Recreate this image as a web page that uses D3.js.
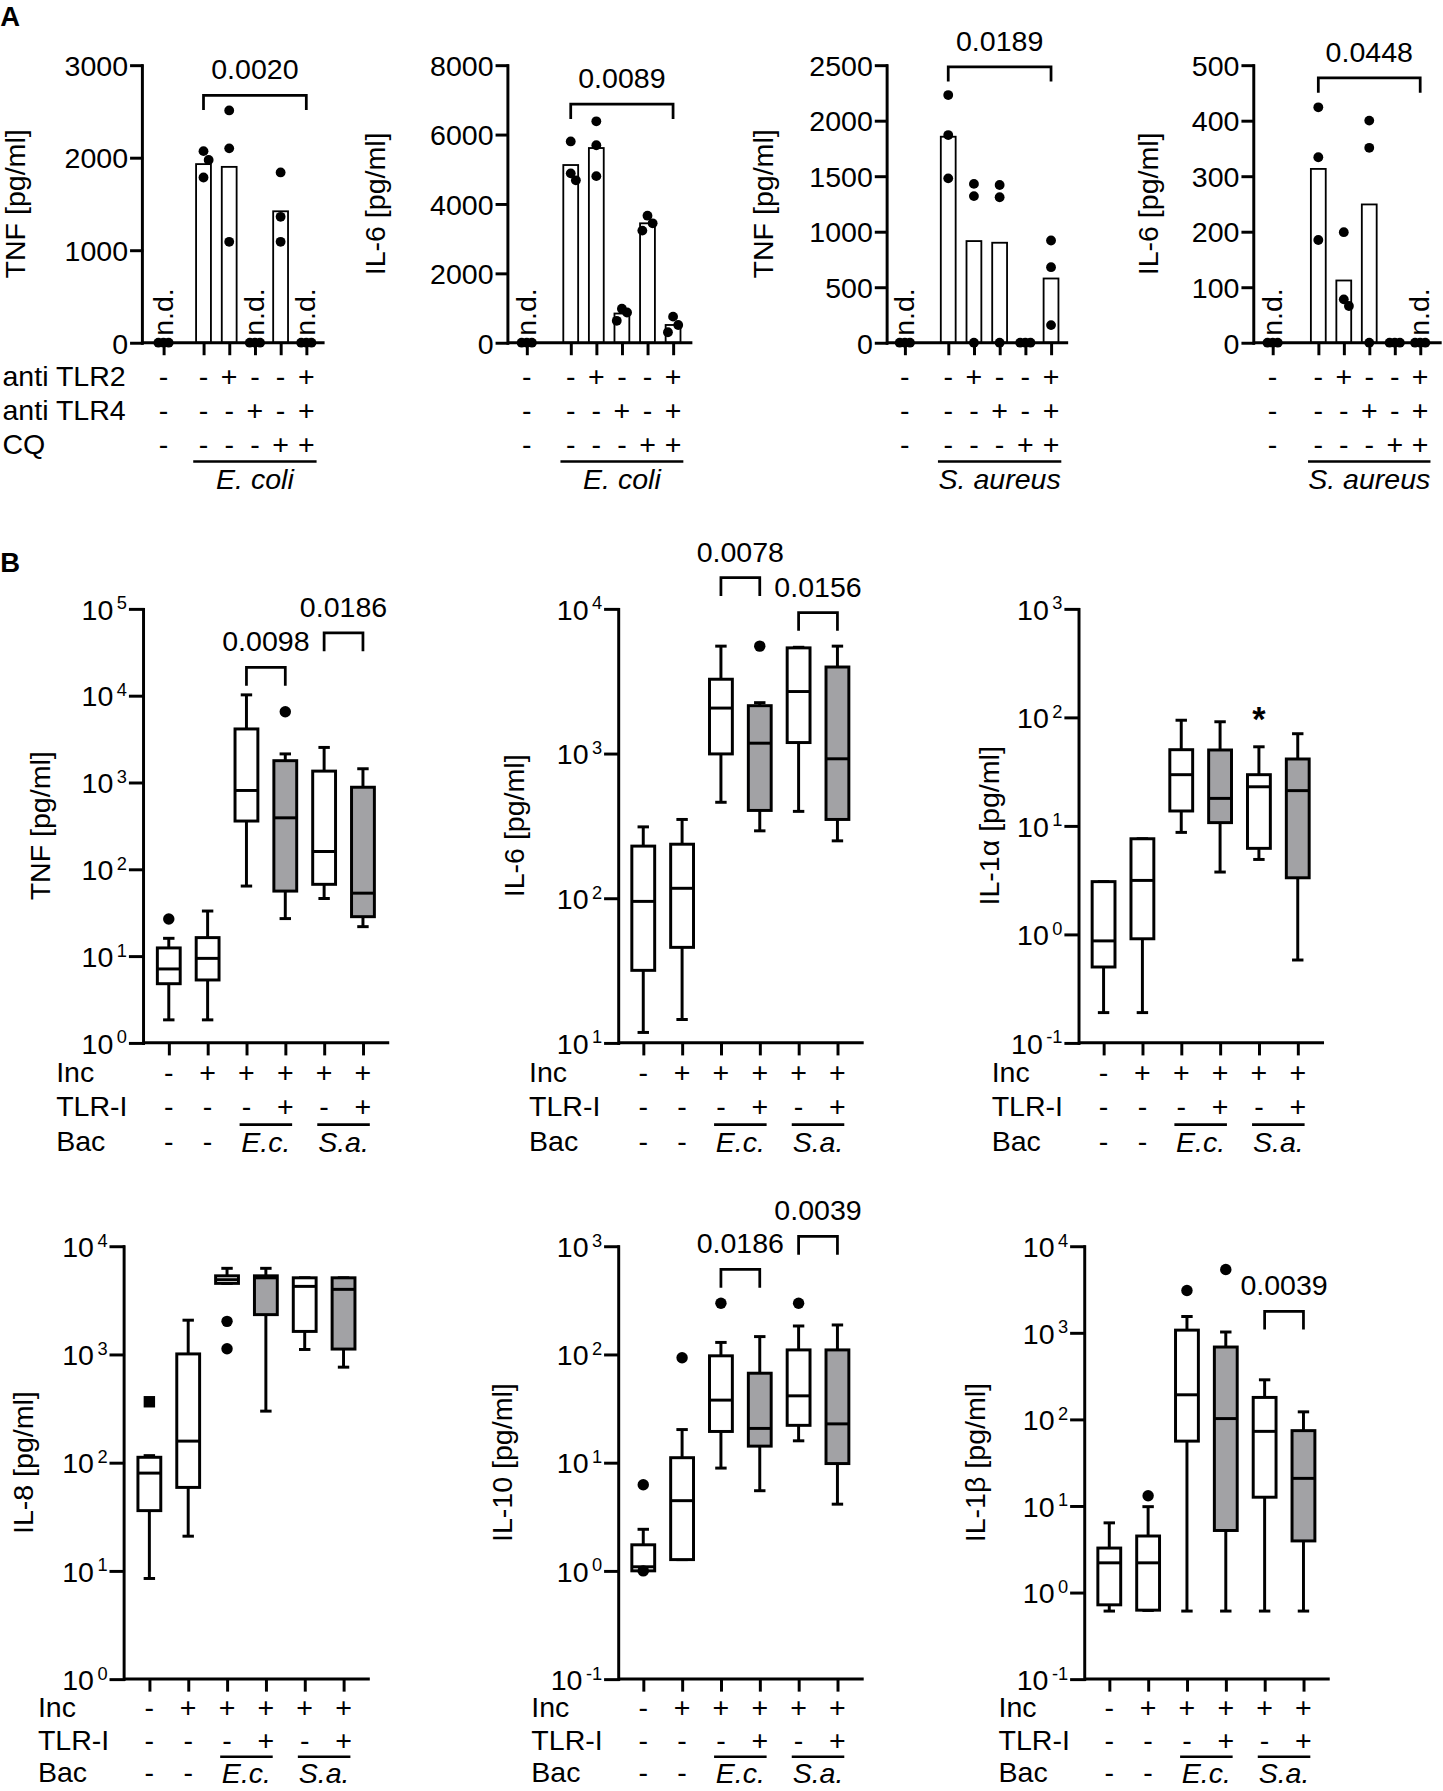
<!DOCTYPE html>
<html>
<head>
<meta charset="utf-8">
<script src="https://cdn.jsdelivr.net/npm/d3@7"></script>
<style>
  body { margin: 0; background: #fff; }
  text { font-family: Arial, "Liberation Sans", Helvetica, sans-serif; fill: #000; }
</style>
</head>
<body>
<svg id="fig"></svg>
<script>
// ---- panel A data ----
const aRowLabels = ['anti TLR2', 'anti TLR4', 'CQ'];
const aSigns = [
  ['-', '-', '+', '-', '-', '+'],
  ['-', '-', '-', '+', '-', '+'],
  ['-', '-', '-', '-', '+', '+']
];

const tnfEcTicks = [0, 1000, 2000, 3000];
const tnfEcBars = [0, 1930, 1900, 0, 1420, 0];
const tnfEcDots = [[0, 0, 0], [2070, 1975, 1785], [2510, 2100, 1090], [0, 0, 0], [1840, 1360, 1090], [0, 0, 0]];
const tnfEcND = [0, 3, 5];
const tnfEcP = [[1, 5, 2674, '0.0020']];

const il6EcTicks = [0, 2000, 4000, 6000, 8000];
const il6EcBars = [0, 5120, 5610, 840, 3440, 510];
const il6EcDots = [[0, 0, 0], [5800, 4880, 4680], [6380, 5690, 4800], [980, 870, 630], [3660, 3440, 3230], [750, 510, 300]];
const il6EcND = [0];
const il6EcP = [[1, 5, 6874, '0.0089']];

const tnfSaTicks = [0, 500, 1000, 1500, 2000, 2500];
const tnfSaBars = [0, 1855, 915, 900, 0, 578];
const tnfSaDots = [[0, 0, 0], [2230, 1870, 1480], [1430, 1320, 0], [1420, 1310, 0], [0, 0, 0], [920, 680, 158]];
const tnfSaND = [0];
const tnfSaP = [[1, 5, 2485, '0.0189']];

const il6SaTicks = [0, 100, 200, 300, 400, 500];
const il6SaBars = [0, 313, 112, 249, 0, 0];
const il6SaDots = [[0, 0, 0], [424, 334, 185], [199, 78, 66], [400, 351, 0], [0, 0, 0], [0, 0, 0]];
const il6SaND = [0, 5];
const il6SaP = [[1, 5, 477, '0.0448']];

// ---- panel B data: [low whisker, Q1, median, Q3, high whisker] ----
const bRowLabels = ['Inc', 'TLR-I', 'Bac'];
const bSigns = [
  ['-', '+', '+', '+', '+', '+'],
  ['-', '-', '-', '+', '-', '+'],
  ['-', '-']
];
const bBacGroups = [['E.c.', 2, 3], ['S.a.', 4, 5]];

const tnfBox = [[1.84, 4.8, 7.1, 12.4, 16], [1.84, 5.3, 9.4, 16.3, 33], [64, 359, 808, 4130, 10200],
  [27, 56, 391, 1780, 2130], [46, 67, 160, 1350, 2530], [21.8, 28.4, 53, 880, 1437]];
const tnfOut = [[26.7], [], [], [6530], [], []];
const tnfP = [[2, 3, 21100, '0.0098'], [4, 5, 52700, '0.0186']];

const il6Box = [[11.8, 31.7, 95, 229, 311], [14.5, 45.7, 117, 236, 350], [460, 993, 2060, 3260, 5520],
  [292, 404, 1178, 2140, 2245], [398, 1190, 2680, 5370, 5420], [249, 350, 919, 3960, 5520]];
const il6Out = [[], [], [], [5520], [], []];
const il6P = [[2, 3, 16400, '0.0078'], [4, 5, 9420, '0.0156']];

const il1aBox = [[0.19, 0.5, 0.87, 3.06, 3.06], [0.19, 0.91, 3.14, 7.6, 7.6], [8.7, 13.7, 29.6, 50.3, 94],
  [3.75, 10.7, 17.9, 50, 91], [4.9, 6.2, 22.9, 29.6, 53.5], [0.58, 3.32, 21.1, 41.3, 70.6]];
const il1aOut = [[], [], [], [], [], []];
const il1aP = [];
const il1aStar = [4];

const il8Box = [[8.5, 36, 80, 112, 116], [20.9, 59, 158, 1010, 2070], [4530, 4530, 4900, 5320, 6240],
  [299, 2330, 5100, 5320, 6240], [1110, 1630, 4250, 5100, 5100], [762, 1120, 3990, 5100, 5100]];
const il8Out = [[365], [], [2020, 1128], [], [], []];
const il8P = [];

const il10Box = [[1.0, 1.0, 1.09, 1.74, 2.42], [1.27, 1.27, 4.45, 11.1, 20.2], [8.9, 19.4, 37.8, 97, 129],
  [5.5, 14.2, 20.7, 67, 146], [15.9, 22.1, 41.4, 110, 183], [4.13, 9.8, 22.8, 110, 187]];
const il10Out = [[6.25, 1.0], [93], [297], [], [297], []];
const il10P = [[2, 3, 610, '0.0186'], [4, 5, 1230, '0.0039']];

const il1bBox = [[0.61, 0.72, 2.2, 3.26, 6.37], [0.62, 0.625, 2.2, 4.49, 9.8], [0.61, 56, 192, 1072, 1540],
  [0.61, 5.2, 102, 684, 1020], [0.61, 12.6, 72.6, 179, 286], [0.61, 3.94, 20.8, 74, 122]];
const il1bOut = [[], [13.1], [3070], [5370], [], []];
const il1bP = [[4, 5, 1770, '0.0039']];

// ---- drawing ----
const svg = d3.select('#fig')
  .attr('width', 1443).attr('height', 1791)
  .attr('viewBox', '0 0 1263 1568');

const LW = 2.6;

function text(g, x, y, s, size, anchor) {
  return g.append('text')
    .attr('x', x).attr('y', y)
    .attr('font-size', size)
    .attr('text-anchor', anchor || 'middle')
    .text(s);
}

function yLabel(g, x, y, s, size) {
  g.append('text')
    .attr('transform', `translate(${x},${y}) rotate(-90)`)
    .attr('dy', '0.35em')
    .attr('font-size', size)
    .attr('text-anchor', 'middle')
    .text(s);
}

function bracket(g, x1, x2, yy, leg, label, size) {
  g.append('path')
    .attr('d', `M${x1},${yy + leg}V${yy}H${x2}V${yy + leg}`)
    .attr('fill', 'none').attr('stroke', '#000').attr('stroke-width', 2.4);
  text(g, (x1 + x2) / 2, yy - 14, label, size);
}

// place dots of one column so they don't overlap too much
function swarm(vals, y, r, step) {
  const placed = [];
  return vals.map(v => {
    const py = y(v);
    let best = null, bestD = -1;
    for (const px of [0, step, -step]) {
      const d = placed.length ? d3.min(placed, p => Math.hypot(p[0] - px, p[1] - py)) : Infinity;
      if (d >= 2 * r) { best = px; bestD = d; break; }
      if (d > bestD) { best = px; bestD = d; }
    }
    placed.push([best, py]);
    return [best, py];
  });
}

function barChart(cfg, ticks, bars, dots, nd, pvals) {
  const g = svg.append('g');
  const xs = [cfg.ctrl].concat(d3.range(5).map(i => cfg.first + i * cfg.step));
  const y = d3.scaleLinear().domain([0, d3.max(ticks)]).range([cfg.bottom, cfg.top]);
  const xo = d3.scaleOrdinal(d3.range(6), xs);

  // bars (zero-height bars are not drawn)
  bars.forEach((v, i) => {
    if (v <= 0) return;
    g.append('rect')
      .attr('x', xs[i] - 6.5).attr('y', y(v))
      .attr('width', 13).attr('height', y(0) - y(v))
      .attr('fill', '#fff').attr('stroke', '#000').attr('stroke-width', 1.6);
  });

  // x axis ticks + line
  g.append('g').attr('transform', `translate(0,${cfg.bottom})`)
    .call(d3.axisBottom(xo).tickSize(11).tickFormat(''))
    .call(a => a.select('.domain').remove())
    .call(a => a.selectAll('line').attr('stroke-width', LW));
  g.append('line').attr('x1', cfg.x0).attr('x2', cfg.end)
    .attr('y1', cfg.bottom).attr('y2', cfg.bottom)
    .attr('stroke', '#000').attr('stroke-width', LW);

  // dots
  dots.forEach((col, i) => {
    swarm(col, y, 4.3, 4.5).forEach(p => {
      g.append('circle').attr('cx', xs[i] + p[0]).attr('cy', p[1]).attr('r', 4.3).attr('fill', '#000');
    });
  });

  // y axis
  g.append('g').attr('transform', `translate(${cfg.x0},0)`)
    .call(d3.axisLeft(y).tickValues(ticks).tickSize(9).tickSizeOuter(0).tickPadding(3).tickFormat(d3.format('d')))
    .call(a => a.selectAll('path,line').attr('stroke-width', LW).attr('stroke-linecap', 'square'))
    .call(a => a.selectAll('text').attr('font-size', 25).attr('font-family', null).attr('dy', '0.36em'));

  // n.d.
  nd.forEach(i => {
    g.append('text')
      .attr('transform', `translate(${xs[i] + 8},${cfg.bottom - 6}) rotate(-90)`)
      .attr('font-size', 25).text('n.d.');
  });

  pvals.forEach(p => bracket(g, xs[p[0]], xs[p[1]], y(p[2]), 13, p[3], 25));

  yLabel(g, cfg.labelX, (cfg.top + cfg.bottom) / 2, cfg.label, 25);

  // treatment rows
  const rowY = [329, 359, 389];
  aSigns.forEach((row, r) => {
    row.forEach((s, i) => text(g, xs[i], rowY[r], s, 25).attr('dy', '0.35em'));
    if (cfg.rows) text(g, 2, rowY[r], aRowLabels[r], 25, 'start').attr('dy', '0.35em');
  });
  g.append('line').attr('x1', xs[1] - 9).attr('x2', xs[5] + 9)
    .attr('y1', 404).attr('y2', 404).attr('stroke', '#000').attr('stroke-width', 2.2);
  text(g, (xs[1] + xs[5]) / 2, 428, cfg.bac, 25).attr('font-style', 'italic');
}

function boxChart(cfg, boxes, outs, pvals, stars) {
  const g = svg.append('g');
  const xs = d3.range(6).map(i => cfg.first + i * 34);
  const y = d3.scaleLog().domain([cfg.lo, cfg.hi]).range([cfg.bottom, cfg.top]);
  const xo = d3.scaleOrdinal(d3.range(6), xs);
  const decades = d3.range(Math.round(Math.log10(cfg.lo)), Math.round(Math.log10(cfg.hi)) + 1).map(e => Math.pow(10, e));
  const bw = 20, cw = 10;

  boxes.forEach((b, i) => {
    const x = xs[i];
    const grey = i === 3 || i === 5;
    g.append('line').attr('x1', x).attr('x2', x).attr('y1', y(b[0])).attr('y2', y(b[4]))
      .attr('stroke', '#000').attr('stroke-width', LW);
    [b[0], b[4]].forEach(v => g.append('line')
      .attr('x1', x - cw / 2).attr('x2', x + cw / 2).attr('y1', y(v)).attr('y2', y(v))
      .attr('stroke', '#000').attr('stroke-width', LW));
    g.append('rect').attr('x', x - bw / 2).attr('y', y(b[3]))
      .attr('width', bw).attr('height', Math.max(0, y(b[1]) - y(b[3])))
      .attr('fill', grey ? '#a2a2a5' : '#fff').attr('stroke', '#000').attr('stroke-width', LW);
    g.append('line').attr('x1', x - bw / 2).attr('x2', x + bw / 2).attr('y1', y(b[2])).attr('y2', y(b[2]))
      .attr('stroke', '#000').attr('stroke-width', LW);
    outs[i].forEach(v => {
      if (cfg.square && cfg.square.includes(i)) {
        g.append('rect').attr('x', x - 5).attr('y', y(v) - 5).attr('width', 10).attr('height', 10).attr('fill', '#000');
      } else {
        g.append('circle').attr('cx', x).attr('cy', y(v)).attr('r', 5).attr('fill', '#000');
      }
    });
  });

  (stars || []).forEach(i => text(g, xs[i], y(boxes[i][4]) - 14, '*', 30).attr('font-weight', 'bold'));

  // x axis
  g.append('g').attr('transform', `translate(0,${cfg.bottom})`)
    .call(d3.axisBottom(xo).tickSize(11).tickFormat(''))
    .call(a => a.select('.domain').remove())
    .call(a => a.selectAll('line').attr('stroke-width', LW));
  g.append('line').attr('x1', cfg.x0).attr('x2', xs[5] + 23)
    .attr('y1', cfg.bottom).attr('y2', cfg.bottom)
    .attr('stroke', '#000').attr('stroke-width', LW);

  // y axis with 10^n labels
  g.append('g').attr('transform', `translate(${cfg.x0},0)`)
    .call(d3.axisLeft(y).tickValues(decades).tickSize(11).tickSizeOuter(0).tickPadding(3).tickFormat(''))
    .call(a => a.selectAll('path,line').attr('stroke-width', LW).attr('stroke-linecap', 'square'))
    .call(a => a.selectAll('.tick text')
      .attr('font-size', 25).attr('font-family', null).attr('dy', '0.36em')
      .each(function (d) {
        const t = d3.select(this);
        t.append('tspan').text('10');
        t.append('tspan').attr('font-size', 16).attr('dx', 3).attr('dy', -9).text(Math.round(Math.log10(d)));
      }));

  pvals.forEach(p => bracket(g, xs[p[0]], xs[p[1]], y(p[2]), 16, p[3], 25));

  yLabel(g, cfg.labelX, (cfg.top + cfg.bottom) / 2, cfg.label, 25);

  // treatment rows
  const gap = cfg.gap || 30;
  const r0 = cfg.bottom + (cfg.r0 || 25.7);
  bRowLabels.forEach((s, r) => text(g, cfg.rowX, r0 + r * gap, s, 25, 'start').attr('dy', '0.35em'));
  bSigns.forEach((row, r) => row.forEach((s, i) =>
    text(g, xs[i], r0 + r * gap, s, 25).attr('dy', '0.35em')));
  bBacGroups.forEach(b => {
    const x1 = xs[b[1]], x2 = xs[b[2]];
    const ly = r0 + gap * 1.53;
    g.append('line').attr('x1', x1 - 6).attr('x2', x2 + 6)
      .attr('y1', ly).attr('y2', ly)
      .attr('stroke', '#000').attr('stroke-width', 2.2);
    text(g, (x1 + x2) / 2, r0 + 2 * gap + 9.5, b[0], 25).attr('font-style', 'italic');
  });
}

// panel letters
text(svg, 0, 23, 'A', 24, 'start').attr('font-weight', 'bold');
text(svg, 0, 501, 'B', 24, 'start').attr('font-weight', 'bold');

// panel A
barChart({ x0: 124, ctrl: 143, first: 178, step: 22.5, end: 284, top: 57, bottom: 300,
  label: 'TNF [pg/ml]', labelX: 13, bac: 'E. coli', rows: true },
  tnfEcTicks, tnfEcBars, tnfEcDots, tnfEcND, tnfEcP);
barChart({ x0: 444, ctrl: 461, first: 499.5, step: 22.4, end: 606, top: 57, bottom: 300,
  label: 'IL-6 [pg/ml]', labelX: 328, bac: 'E. coli' },
  il6EcTicks, il6EcBars, il6EcDots, il6EcND, il6EcP);
barChart({ x0: 776, ctrl: 792, first: 830, step: 22.5, end: 935, top: 57, bottom: 300,
  label: 'TNF [pg/ml]', labelX: 668, bac: 'S. aureus' },
  tnfSaTicks, tnfSaBars, tnfSaDots, tnfSaND, tnfSaP);
barChart({ x0: 1097, ctrl: 1114, first: 1154, step: 22.3, end: 1262, top: 57, bottom: 300,
  label: 'IL-6 [pg/ml]', labelX: 1005, bac: 'S. aureus' },
  il6SaTicks, il6SaBars, il6SaDots, il6SaND, il6SaP);

// panel B
boxChart({ x0: 125, first: 147.6, top: 533, bottom: 913, lo: 1, hi: 1e5,
  label: 'TNF [pg/ml]', labelX: 35, rowX: 49 }, tnfBox, tnfOut, tnfP);
boxChart({ x0: 541, first: 563, top: 533, bottom: 913, lo: 10, hi: 1e4,
  label: 'IL-6 [pg/ml]', labelX: 450, rowX: 463 }, il6Box, il6Out, il6P);
boxChart({ x0: 944, first: 966, top: 533, bottom: 913, lo: 0.1, hi: 1e3,
  label: 'IL-1α [pg/ml]', labelX: 866, rowX: 868 }, il1aBox, il1aOut, il1aP, il1aStar);
boxChart({ x0: 108, first: 130.6, top: 1091, bottom: 1470, lo: 1, hi: 1e4,
  label: 'IL-8 [pg/ml]', labelX: 20, rowX: 33, square: [0], r0: 24.5, gap: 28.5 }, il8Box, il8Out, il8P);
boxChart({ x0: 541, first: 563, top: 1091, bottom: 1470, lo: 0.1, hi: 1e3,
  label: 'IL-10 [pg/ml]', labelX: 439, rowX: 465, r0: 24.5, gap: 28.5 }, il10Box, il10Out, il10P);
boxChart({ x0: 949, first: 971, top: 1091, bottom: 1470, lo: 0.1, hi: 1e4,
  label: 'IL-1β [pg/ml]', labelX: 853, rowX: 874, r0: 24.5, gap: 28.5 }, il1bBox, il1bOut, il1bP);
</script>
</body>
</html>
